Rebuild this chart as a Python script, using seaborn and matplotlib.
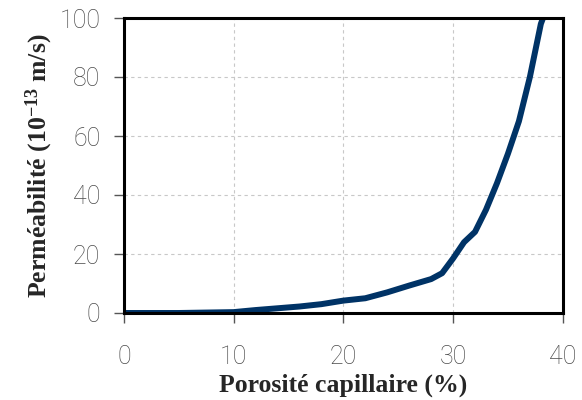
import matplotlib
matplotlib.use("Agg")
import matplotlib.pyplot as plt
import seaborn as sns
import pandas as pd

# porosity (%) vs permeability (1e-13 m/s)
porosity = [0, 5, 10, 12, 14, 16, 18, 20, 22, 24, 26, 28, 29, 30, 31, 32,
            33, 34, 35, 36, 37, 38, 38.2]
permeability = [0, 0, 0.3, 1.0, 1.6, 2.2, 3.0, 4.2, 5.0, 7.0, 9.3, 11.5,
                13.5, 18.5, 24.0, 27.5, 35.0, 44.0, 54.0, 65.0, 80.0, 98.0, 100.0]

x_ticks = [0, 10, 20, 30, 40]
y_ticks = [0, 20, 40, 60, 80, 100]

df = pd.DataFrame({"porosite": porosity, "permeabilite": permeability})

sns.set_theme(style="white")
plt.rcParams["font.family"] = ["Roboto", "DejaVu Sans"]
plt.rcParams["mathtext.fontset"] = "custom"
plt.rcParams["mathtext.rm"] = "Liberation Serif:bold"
plt.rcParams["mathtext.default"] = "rm"

fig = plt.figure(figsize=(5.82, 4.0), dpi=100)
ax = fig.add_axes([0.213, 0.2175, 0.754, 0.7375])

sns.lineplot(data=df, x="porosite", y="permeabilite", ax=ax,
             color="#003366", linewidth=4.3, solid_capstyle="butt")

ax.set_xlim(0, 40)
ax.set_ylim(0, 100)
ax.set_xticks(x_ticks)
ax.set_yticks(y_ticks)
ax.grid(True, linestyle=(0, (3, 3)), color="#c8c8c8", linewidth=0.8)

for s in ax.spines.values():
    s.set_color("black")
    s.set_linewidth(2.2)

ax.tick_params(axis="both", direction="out", length=7, width=1,
               color="#555555", labelsize=18, labelcolor="#4a4a4a",
               bottom=True, left=True)
ax.tick_params(axis="x", pad=16)
ax.tick_params(axis="y", pad=10)
for lab in ax.get_xticklabels() + ax.get_yticklabels():
    lab.set_fontweight("light")

label_font = {"family": "Liberation Serif", "weight": "bold", "size": 18.5}
ax.set_xlabel("Porosité capillaire (%)", fontdict=label_font, labelpad=3)
ax.set_ylabel(r"Perméabilité (10$^{-13}$ m/s)", fontdict=label_font, labelpad=3)

fig.savefig("out.png", dpi=100)
